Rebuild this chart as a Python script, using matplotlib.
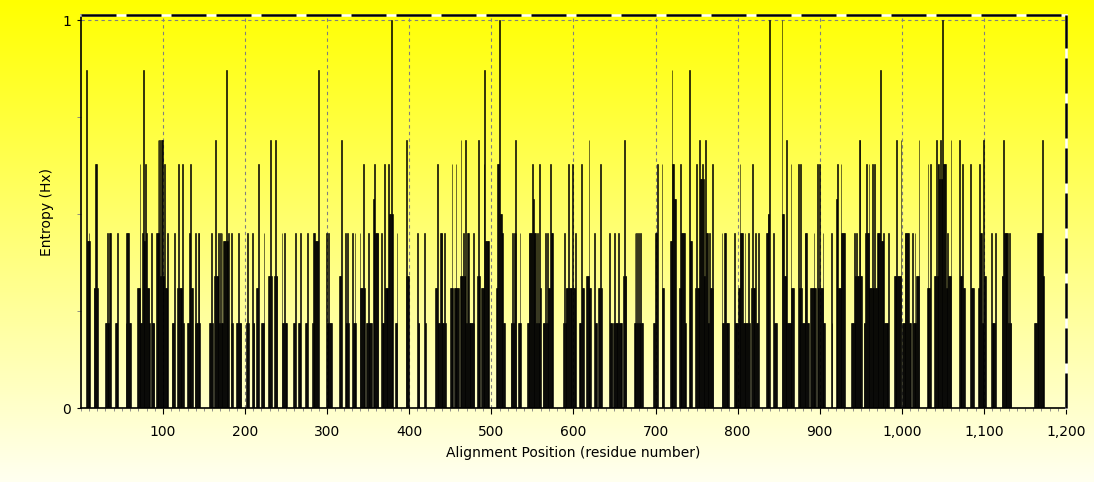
import numpy as np
import matplotlib
matplotlib.use('Agg')
import matplotlib.pyplot as plt
from matplotlib.ticker import FuncFormatter, FixedLocator, MultipleLocator
from matplotlib.lines import Line2D

# entropy per alignment position (only non-zero positions listed)
pos_000 = [7, 8, 9, 10, 11, 16, 17, 18, 19, 20,
           30, 31, 32, 33, 34, 35, 36, 42, 43, 44, 45,
           55, 56, 57, 58, 59, 60,
           69, 70, 71, 72, 73, 74, 75, 76, 77, 78, 79, 80, 81, 82, 83, 84,
           86, 87, 88, 89, 92, 93, 94, 95, 96, 97, 98, 99]
ent_000 = [0.87, 0.43, 0.43, 0.45, 0.43, 0.31, 0.31, 0.63, 0.63, 0.31,
           0.22, 0.22, 0.45, 0.22, 0.22, 0.45, 0.45, 0.22, 0.22, 0.22, 0.45,
           0.22, 0.45, 0.45, 0.45, 0.22, 0.22,
           0.31, 0.31, 0.31, 0.63, 0.22, 0.22, 0.45, 0.87, 0.43, 0.43, 0.63, 0.45, 0.31, 0.31, 0.31, 0.22,
           0.45, 0.22, 0.22, 0.22, 0.45, 0.45, 0.69, 0.45, 0.69, 0.34, 0.69, 0.69]

pos_100 = [100, 101, 102, 103, 104, 105, 106, 111, 112, 113, 114,
           118, 119, 120, 121, 122, 123, 124, 125,
           130, 131, 132, 133, 134, 135, 136, 139, 140, 141, 142, 143, 144, 145,
           157, 158, 159, 160,
           163, 164, 165, 166, 167, 168, 169, 170, 171, 172, 173, 174, 175, 176, 177, 178, 179, 180,
           183, 184, 185, 190, 191, 192, 193, 194, 195]
ent_100 = [0.34, 0.34, 0.63, 0.31, 0.31, 0.31, 0.45, 0.22, 0.22, 0.22, 0.45,
           0.31, 0.63, 0.31, 0.31, 0.31, 0.31, 0.63, 0.22,
           0.22, 0.22, 0.45, 0.31, 0.63, 0.31, 0.31, 0.22, 0.45, 0.22, 0.22, 0.45, 0.45, 0.22,
           0.22, 0.22, 0.45, 0.22,
           0.34, 0.69, 0.34, 0.34, 0.34, 0.45, 0.22, 0.45, 0.22, 0.45, 0.22, 0.43, 0.43, 0.43, 0.87, 0.43, 0.43, 0.45,
           0.22, 0.45, 0.22, 0.22, 0.22, 0.45, 0.22, 0.22, 0.22]

pos_200 = [202, 203, 204, 209, 210, 211, 214, 215, 216, 220, 221, 222, 223,
           229, 230, 231, 232, 236, 237, 238, 239,
           245, 246, 247, 248, 249, 250, 251, 259, 260, 261, 265, 266, 267, 268,
           274, 275, 276, 282, 283, 284, 285, 286, 287, 288, 289, 299]
ent_200 = [0.22, 0.45, 0.22, 0.45, 0.22, 0.22, 0.31, 0.31, 0.63, 0.22, 0.22, 0.22, 0.45,
           0.34, 0.34, 0.69, 0.34, 0.34, 0.69, 0.34, 0.34,
           0.45, 0.22, 0.22, 0.45, 0.22, 0.22, 0.22, 0.22, 0.22, 0.45, 0.22, 0.22, 0.22, 0.45,
           0.22, 0.22, 0.45, 0.22, 0.45, 0.22, 0.45, 0.43, 0.43, 0.43, 0.87, 0.45]

pos_300 = [300, 301, 302, 303, 304, 305, 315, 316, 317,
           322, 323, 324, 325, 326, 331, 332, 333, 334, 335,
           340, 341, 342, 343, 344, 345, 346, 348, 349, 350, 351, 352, 353, 354,
           356, 357, 358, 359, 360, 361, 362, 366, 367, 368, 369,
           370, 371, 372, 373, 374, 375, 376, 377, 378, 379, 380,
           383, 384, 385, 396, 397, 398, 399]
ent_300 = [0.22, 0.22, 0.45, 0.22, 0.22, 0.22, 0.34, 0.34, 0.69,
           0.45, 0.22, 0.22, 0.45, 0.22, 0.45, 0.22, 0.22, 0.45, 0.22,
           0.45, 0.31, 0.31, 0.31, 0.63, 0.31, 0.31, 0.22, 0.22, 0.45, 0.22, 0.22, 0.22, 0.22,
           0.54, 0.54, 0.63, 0.45, 0.45, 0.45, 0.45, 0.45, 0.22, 0.22, 0.22,
           0.63, 0.31, 0.31, 0.31, 0.31, 0.63, 0.50, 0.50, 1.00, 0.50, 0.50,
           0.22, 0.22, 0.45, 0.34, 0.69, 0.34, 0.34]

pos_400 = [410, 411, 412, 419, 420,
           432, 433, 434, 435, 436, 437, 438, 439, 440, 441, 442, 443, 444,
           450, 451, 452, 453, 455, 456, 457, 458, 459, 460,
           462, 463, 464, 465, 466, 467, 468, 469, 470, 471, 472, 473, 474, 475, 476, 477, 478, 479,
           483, 484, 485, 486, 488, 489, 490, 491, 492, 493, 494, 495, 496, 497]
ent_400 = [0.45, 0.22, 0.22, 0.45, 0.22,
           0.31, 0.31, 0.63, 0.22, 0.22, 0.22, 0.45, 0.45, 0.45, 0.22, 0.22, 0.45, 0.22,
           0.31, 0.31, 0.63, 0.31, 0.31, 0.31, 0.63, 0.31, 0.31, 0.31,
           0.34, 0.69, 0.34, 0.34, 0.45, 0.34, 0.34, 0.69, 0.22, 0.45, 0.45, 0.22, 0.22, 0.22, 0.22, 0.22, 0.45, 0.22,
           0.34, 0.69, 0.34, 0.34, 0.31, 0.31, 0.31, 0.63, 0.87, 0.43, 0.43, 0.43, 0.43, 0.43]

pos_500 = [506, 507, 508, 509, 510, 511, 512, 513, 514, 515, 516,
           524, 525, 526, 527, 528, 529, 530, 533, 534, 535, 536,
           544, 545, 546, 547, 548, 549, 550, 551, 552, 553, 554, 555, 556, 557, 558, 559, 560,
           563, 564, 565, 566, 567, 568, 569, 570, 571, 572, 573, 574, 575,
           588, 589, 590, 591, 592, 593, 594, 595, 596, 597, 598, 599]
ent_500 = [0.31, 0.31, 0.63, 0.63, 1.00, 0.50, 0.50, 0.45, 0.45, 0.22, 0.22,
           0.22, 0.22, 0.45, 0.22, 0.45, 0.69, 0.45, 0.22, 0.22, 0.45, 0.22,
           0.22, 0.22, 0.45, 0.45, 0.45, 0.45, 0.63, 0.54, 0.45, 0.45, 0.45, 0.22, 0.45, 0.22, 0.22, 0.63, 0.31,
           0.22, 0.22, 0.22, 0.45, 0.22, 0.45, 0.22, 0.31, 0.31, 0.63, 0.45, 0.45, 0.45,
           0.22, 0.45, 0.22, 0.31, 0.31, 0.31, 0.63, 0.31, 0.31, 0.31, 0.31, 0.63]

pos_600 = [600, 601, 602, 603, 607, 608, 609, 610, 611, 612,
           616, 617, 618, 619, 620, 621, 626, 627, 628, 631, 632, 633, 634,
           644, 645, 646, 647, 649, 650, 651, 652, 653, 654, 655, 656, 657, 658, 659,
           661, 662, 663, 664,
           674, 675, 676, 677, 678, 679, 680, 681, 682, 683, 684, 698, 699]
ent_600 = [0.31, 0.31, 0.31, 0.45, 0.22, 0.22, 0.22, 0.63, 0.31, 0.31,
           0.34, 0.34, 0.34, 0.69, 0.31, 0.31, 0.45, 0.22, 0.22, 0.31, 0.31, 0.63, 0.31,
           0.45, 0.22, 0.22, 0.22, 0.22, 0.45, 0.22, 0.22, 0.22, 0.22, 0.45, 0.22, 0.22, 0.22, 0.22,
           0.34, 0.69, 0.34, 0.34,
           0.22, 0.45, 0.22, 0.45, 0.22, 0.45, 0.22, 0.22, 0.45, 0.22, 0.22, 0.22, 0.22]

pos_700 = [700, 701, 702, 708, 709, 710, 718, 719, 720, 721, 722, 723, 724,
           729, 730, 731, 732, 733, 734, 735, 736, 737, 741, 742, 743, 744,
           749, 750, 751, 752, 753, 754, 755, 756, 757, 758, 759, 760, 761, 762, 763, 764, 765,
           766, 767, 768, 769, 770,
           781, 782, 783, 784, 785, 786, 787, 788, 789, 796, 797, 798, 799]
ent_700 = [0.45, 0.45, 0.63, 0.63, 0.31, 0.31, 0.43, 0.43, 0.87, 0.63, 0.63, 0.54, 0.54,
           0.31, 0.63, 0.31, 0.45, 0.45, 0.45, 0.45, 0.22, 0.22, 0.87, 0.43, 0.43, 0.43,
           0.31, 0.63, 0.31, 0.31, 0.31, 0.69, 0.59, 0.59, 0.63, 0.59, 0.34, 0.34, 0.69, 0.45, 0.45, 0.22, 0.22,
           0.45, 0.31, 0.31, 0.63, 0.31,
           0.45, 0.22, 0.22, 0.45, 0.45, 0.22, 0.22, 0.22, 0.22, 0.45, 0.22, 0.22, 0.22]

pos_800 = [800, 801, 802, 803, 804, 805, 806, 807, 808, 809, 810, 811, 812, 813, 814,
           817, 818, 819, 820, 821, 822, 823, 824, 825,
           835, 836, 837, 838, 839, 844, 845, 846, 847,
           854, 855, 856, 857, 858, 859, 860, 861, 862, 863, 864, 865, 866, 867, 868,
           874, 875, 876, 877, 878, 879, 880, 881, 882, 883, 884, 885, 886,
           889, 890, 891, 892, 893, 894, 895, 897, 898, 899]
ent_800 = [0.22, 0.31, 0.31, 0.63, 0.45, 0.45, 0.45, 0.22, 0.22, 0.45, 0.22, 0.22, 0.22, 0.45, 0.22,
           0.31, 0.63, 0.31, 0.31, 0.31, 0.45, 0.22, 0.22, 0.45,
           0.45, 0.45, 0.50, 0.50, 1.00, 0.45, 0.22, 0.22, 0.22,
           1.00, 0.50, 0.50, 0.34, 0.34, 0.34, 0.69, 0.22, 0.22, 0.22, 0.22, 0.63, 0.31, 0.31, 0.31,
           0.63, 0.31, 0.31, 0.63, 0.31, 0.22, 0.22, 0.22, 0.45, 0.45, 0.45, 0.22, 0.22,
           0.31, 0.31, 0.31, 0.31, 0.45, 0.31, 0.31, 0.63, 0.31, 0.31]

pos_900 = [900, 901, 902, 903, 904, 905, 906, 914, 915,
           920, 921, 922, 923, 924, 925, 926, 927, 928, 929, 930,
           939, 940, 941, 942, 943, 944, 945, 946, 947, 948, 949, 950, 951,
           954, 955, 956, 957, 958, 959, 960, 961, 962, 963, 964, 965, 966, 967, 968, 969,
           970, 971, 972, 973, 974, 975, 976, 977, 978, 979, 980, 981, 982, 983, 984,
           991, 992, 993, 994, 995, 996, 997, 998, 999]
ent_900 = [0.63, 0.31, 0.31, 0.31, 0.45, 0.22, 0.22, 0.45, 0.22,
           0.54, 0.54, 0.63, 0.31, 0.31, 0.31, 0.63, 0.45, 0.45, 0.45, 0.45,
           0.22, 0.22, 0.22, 0.45, 0.22, 0.34, 0.45, 0.34, 0.34, 0.69, 0.69, 0.34, 0.34,
           0.22, 0.22, 0.45, 0.63, 0.45, 0.45, 0.63, 0.31, 0.31, 0.31, 0.63, 0.31, 0.31, 0.63, 0.31, 0.31,
           0.45, 0.45, 0.45, 0.45, 0.87, 0.43, 0.43, 0.43, 0.45, 0.22, 0.22, 0.22, 0.22, 0.22, 0.45,
           0.34, 0.34, 0.34, 0.69, 0.34, 0.34, 0.34, 0.34, 0.69]

pos_1000 = [1001, 1002, 1003, 1004, 1005, 1006, 1007, 1008, 1009, 1010, 1011,
            1013, 1014, 1015, 1016, 1017, 1018, 1019, 1020, 1021,
            1031, 1032, 1033, 1034, 1035,
            1040, 1041, 1042, 1043, 1044, 1045, 1046, 1047, 1048, 1049, 1050,
            1051, 1052, 1053, 1054, 1055, 1056, 1057, 1058, 1059, 1060,
            1070, 1071, 1072, 1073, 1074, 1075, 1076, 1084, 1085, 1086, 1087,
            1093, 1094, 1095, 1096, 1097, 1098, 1099]
ent_1000 = [0.22, 0.22, 0.22, 0.45, 0.45, 0.45, 0.45, 0.45, 0.22, 0.22, 0.22,
            0.45, 0.22, 0.22, 0.45, 0.22, 0.34, 0.34, 0.34, 0.69,
            0.31, 0.63, 0.31, 0.31, 0.63,
            0.34, 0.34, 0.69, 0.34, 0.63, 0.63, 0.59, 0.69, 0.59, 0.59, 1.00,
            0.63, 0.63, 0.63, 0.31, 0.31, 0.45, 0.34, 0.34, 0.34, 0.69,
            0.69, 0.34, 0.34, 0.34, 0.63, 0.31, 0.31, 0.63, 0.31, 0.31, 0.31,
            0.31, 0.31, 0.63, 0.45, 0.45, 0.22, 0.22]

pos_1100 = [1100, 1101, 1102, 1109, 1110, 1111, 1112, 1113, 1114,
            1122, 1123, 1124, 1125, 1126, 1127, 1128, 1129, 1130, 1131, 1132, 1133,
            1162, 1163, 1164, 1165, 1166, 1167, 1168, 1169, 1170, 1171, 1172, 1173]
ent_1100 = [0.69, 0.34, 0.34, 0.45, 0.22, 0.22, 0.22, 0.22, 0.45,
            0.34, 0.34, 0.69, 0.45, 0.45, 0.45, 0.45, 0.45, 0.22, 0.45, 0.22, 0.22,
            0.22, 0.22, 0.22, 0.45, 0.45, 0.45, 0.45, 0.45, 0.45, 0.69, 0.34, 0.34]

position = (pos_000 + pos_100 + pos_200 + pos_300 + pos_400 + pos_500
            + pos_600 + pos_700 + pos_800 + pos_900 + pos_1000 + pos_1100)
entropy = (ent_000 + ent_100 + ent_200 + ent_300 + ent_400 + ent_500
           + ent_600 + ent_700 + ent_800 + ent_900 + ent_1000 + ent_1100)

x_ticks = [100, 200, 300, 400, 500, 600, 700, 800, 900, 1000, 1100, 1200]

plt.rcParams['font.family'] = ['DejaVu Sans']

fig = plt.figure(figsize=(10.94, 4.82), dpi=100)

# yellow -> pale vertical gradient behind the whole figure
bg = fig.add_axes([0, 0, 1, 1], zorder=0)
shade = np.linspace(0, 1, 256).reshape(-1, 1)
grad = np.ones((256, 1, 3))
grad[..., 2] = 0.94 * shade
bg.imshow(grad, aspect='auto', extent=[0, 1, 0, 1], origin='upper')
bg.axis('off')

ax = fig.add_axes([0.0739, 0.1535, 0.9005, 0.8154], zorder=1)
ax.patch.set_alpha(0)

ax.bar(position, entropy, width=1.0, color='black', edgecolor='black', linewidth=0.4, zorder=3)

ax.set_xlim(0, 1200)
ax.set_ylim(0, 1.013)

ax.xaxis.set_major_locator(FixedLocator(x_ticks))
ax.xaxis.set_major_formatter(FuncFormatter(lambda v, p: '{:,}'.format(int(v))))
ax.xaxis.set_minor_locator(MultipleLocator(10))
ax.set_yticks([0, 1])
ax.set_yticklabels(['0', '1'])
ax.yaxis.set_minor_locator(FixedLocator([0.25, 0.5, 0.75]))

ax.tick_params(axis='x', which='major', length=4, pad=8, labelsize=10, color='black')
ax.tick_params(axis='x', which='minor', length=2, color='gray')
ax.tick_params(axis='y', which='major', length=3, pad=4, labelsize=10)
ax.tick_params(axis='y', which='minor', length=3, color='gray')

# dashed grey grid
ax.grid(axis='x', which='major', color='#808080', linestyle=(0, (3, 3)), linewidth=0.8, zorder=1)
ax.axhline(1, color='#808080', linestyle=(0, (3, 3)), linewidth=0.8, zorder=1)

ax.spines['top'].set_visible(False)
ax.spines['right'].set_visible(False)
ax.spines['left'].set_linewidth(1.2)
ax.spines['bottom'].set_linewidth(1.2)
for xs, ys in [([0, 1], [1, 1]), ([1, 1], [0, 1])]:
    ax.add_line(Line2D(xs, ys, transform=ax.transAxes, color='white', linewidth=1.8, clip_on=False, zorder=4))
    ax.add_line(Line2D(xs, ys, transform=ax.transAxes, color='black', linewidth=1.8,
                       linestyle=(0, (14, 4)), clip_on=False, zorder=5))

ax.set_xlabel('Alignment Position (residue number)', fontsize=10, labelpad=5)
ax.set_ylabel('Entropy (Hx)', fontsize=10, labelpad=6)

fig.savefig('out.png', dpi=100)
